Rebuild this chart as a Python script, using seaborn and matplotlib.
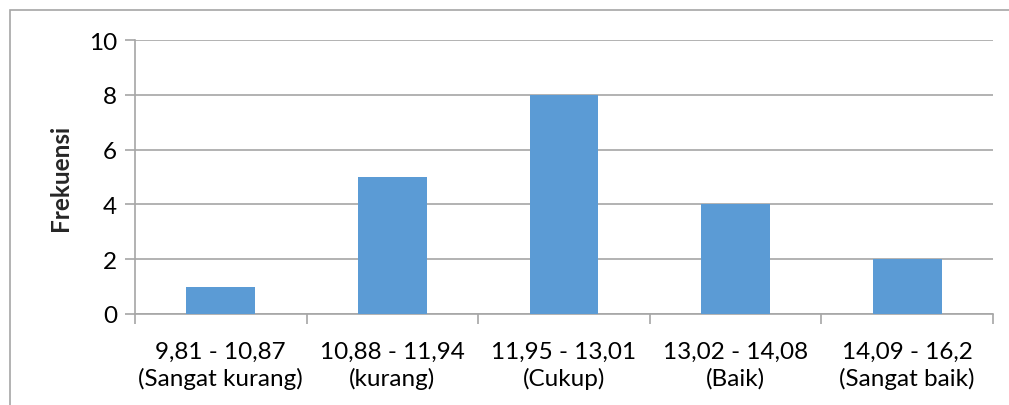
import matplotlib
matplotlib.use("Agg")
import matplotlib.pyplot as plt
import matplotlib.patches as mpatches
import seaborn as sns
import pandas as pd

# Frequency of scores per class interval
categories = [
    "9,81 - 10,87\n(Sangat kurang)",
    "10,88 - 11,94\n(kurang)",
    "11,95 - 13,01\n(Cukup)",
    "13,02 - 14,08\n(Baik)",
    "14,09 - 16,2\n(Sangat baik)",
]
frekuensi = [1, 5, 8, 4, 2]
y_ticks = [0, 2, 4, 6, 8, 10]

df = pd.DataFrame({"kelas": categories, "frekuensi": frekuensi})

sns.set_theme(style="white")
plt.rcParams["font.family"] = ["Lato", "DejaVu Sans"]

W, H = 1009, 406
fig = plt.figure(figsize=(W / 100, H / 100), dpi=100)
ax = fig.add_axes([135 / W, 1 - 315 / H, (993 - 135) / W, (315 - 41) / H])

sns.barplot(data=df, x="kelas", y="frekuensi", color="#5B9BD5",
            saturation=1, width=0.4, linewidth=0, edgecolor="none",
            ax=ax, zorder=3)

grid_c = "#A6A6A6"
fs = 17.5
ax.set_ylim(0, 10)
ax.set_xlim(-0.5, len(categories) - 0.5)
ax.set_yticks(y_ticks)
ax.set_yticklabels([str(v) for v in y_ticks])
ax.yaxis.grid(True, color=grid_c, linewidth=1.2, zorder=0)
ax.set_axisbelow(True)

for side in ["top", "right"]:
    ax.spines[side].set_visible(False)
for side in ["left", "bottom"]:
    ax.spines[side].set_color(grid_c)
    ax.spines[side].set_linewidth(1.2)

# Category boundary ticks on the x axis
ax.set_xticks(range(len(categories)))
ax.tick_params(axis="x", length=0, pad=19, labelsize=fs, colors="black")
ax.tick_params(axis="y", length=7, width=1.2, color=grid_c, pad=6,
               labelsize=fs, labelcolor="black", left=True)
ax.set_xticks([i - 0.5 for i in range(len(categories) + 1)], minor=True)
ax.tick_params(axis="x", which="minor", length=7, width=1.2, color=grid_c,
               bottom=True)
for lbl in ax.get_xticklabels():
    lbl.set_linespacing(1.3)

ax.set_xlabel("")
ax.set_ylabel("Frekuensi", fontsize=fs, fontweight="bold", labelpad=12)

# Chart area frame
fig.patches.append(mpatches.Rectangle((10 / W, -0.1), 1.2, 1 - 11 / H + 0.1,
                                      transform=fig.transFigure, fill=False,
                                      edgecolor=grid_c, linewidth=1.2))

fig.savefig("out.png", dpi=100)
